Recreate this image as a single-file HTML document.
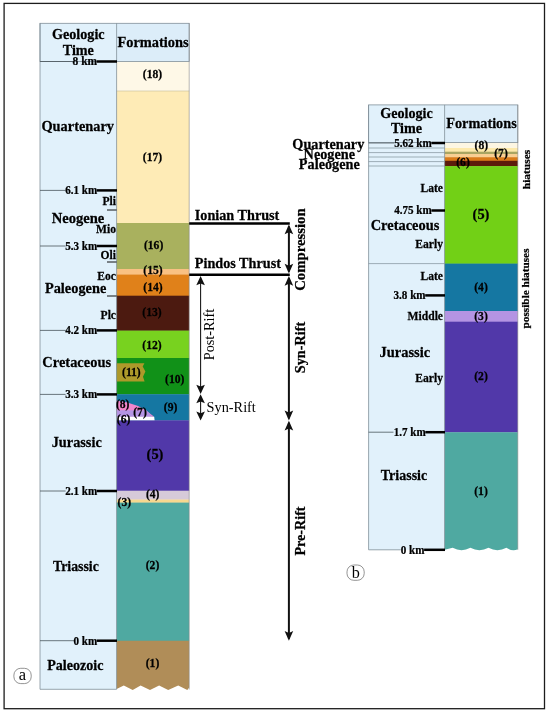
<!DOCTYPE html>
<html lang="en"><head><meta charset="utf-8"><title>Stratigraphic columns</title>
<style>html,body{margin:0;padding:0;background:#fff}svg{display:block}text{white-space:pre}</style></head>
<body>
<svg width="550" height="714" viewBox="0 0 550 714">
<rect x="0.00" y="0.00" width="550.00" height="714.00" fill="#fff" />
<rect x="4.1" y="3.4" width="540.4" height="705.3" fill="none" stroke="#1c1c1c" stroke-width="1.3"/>
<rect x="40.00" y="23.30" width="76.60" height="666.00" fill="#e1f1fb" />
<rect x="116.60" y="23.30" width="72.60" height="38.20" fill="#dcedf9" />
<rect x="116.60" y="61.50" width="72.60" height="29.80" fill="#fef8e7" />
<rect x="116.60" y="91.00" width="72.60" height="132.30" fill="#feebb6" />
<rect x="116.60" y="223.00" width="72.60" height="46.30" fill="#a9b15e" />
<rect x="116.60" y="269.00" width="72.60" height="5.80" fill="#f9c183" />
<rect x="116.60" y="274.50" width="72.60" height="21.50" fill="#e0811a" />
<rect x="116.60" y="295.70" width="72.60" height="35.20" fill="#4c1a10" />
<rect x="116.60" y="330.60" width="72.60" height="27.70" fill="#78d21f" />
<rect x="116.60" y="358.00" width="72.60" height="36.50" fill="#119118" />
<rect x="116.60" y="394.20" width="72.60" height="26.40" fill="#1577a2" />
<rect x="116.60" y="420.30" width="72.60" height="70.70" fill="#5138a9" />
<rect x="116.60" y="490.70" width="72.60" height="9.10" fill="#d6cad9" />
<rect x="116.60" y="499.50" width="72.60" height="3.40" fill="#f7d88f" />
<rect x="116.60" y="502.60" width="72.60" height="138.40" fill="#4fa9a1" />
<line x1="116.60" y1="91.00" x2="189.20" y2="91.00" stroke="#c8bd9a" stroke-width="0.6"/>
<polygon points="116.6,640.7 189.2,640.7 189.2,687.6 187.3,689.9 178.2,685.4 168.2,689.9 159.1,685.4 150.0,689.9 140.6,685.4 132.7,689.9 123.8,685.4 116.6,689.0" fill="#b08d58"/>
<polygon points="116.6,363.2 144.4,363.2 142.7,366.5 145.4,371.5 143,376.8 144.6,381.4 116.6,381.4" fill="#ad992a"/>
<path d="M116.6,400.6 Q139,403 154.2,416.7 L116.6,416.7 Z" fill="#f286cb"/>
<path d="M116.6,410.2 L146.5,410.2 L152.5,416.7 L116.6,416.7 Z" fill="#b494e3"/>
<polygon points="116.6,416.7 154.2,416.7 154.6,420.3 116.6,420.3" fill="#fff"/>
<rect x="40.0" y="23.3" width="149.20" height="38.20" fill="none" stroke="#808f99" stroke-width="0.8"/>
<line x1="40.00" y1="23.30" x2="40.00" y2="689.30" stroke="#808f99" stroke-width="0.8"/>
<line x1="40.00" y1="689.30" x2="116.60" y2="689.30" stroke="#808f99" stroke-width="0.8"/>
<line x1="116.60" y1="23.30" x2="116.60" y2="689.30" stroke="#808f99" stroke-width="0.8"/>
<line x1="189.20" y1="23.30" x2="189.20" y2="689.50" stroke="#8a8a8a" stroke-width="0.6"/>
<line x1="40.00" y1="61.50" x2="73.96" y2="61.50" stroke="#4a555c" stroke-width="0.8"/>
<line x1="96.80" y1="61.50" x2="117.00" y2="61.50" stroke="#000" stroke-width="2.5"/>
<text transform="translate(97.20,65.30) scale(0.9434,1)" font-size="12.19" text-anchor="end" font-family="'Liberation Serif','Times New Roman',serif" font-weight="bold" fill="#000" stroke="#000" stroke-width="0.25" >8 km</text>
<line x1="40.00" y1="190.40" x2="65.63" y2="190.40" stroke="#4a555c" stroke-width="0.8"/>
<line x1="96.80" y1="190.40" x2="117.00" y2="190.40" stroke="#000" stroke-width="2.5"/>
<text transform="translate(97.20,194.20) scale(0.9174,1)" font-size="12.10" text-anchor="end" font-family="'Liberation Serif','Times New Roman',serif" font-weight="bold" fill="#000" stroke="#000" stroke-width="0.25" >6.1 km</text>
<line x1="40.00" y1="246.00" x2="65.63" y2="246.00" stroke="#4a555c" stroke-width="0.8"/>
<line x1="96.80" y1="246.00" x2="117.00" y2="246.00" stroke="#000" stroke-width="2.5"/>
<text transform="translate(97.20,249.80) scale(0.9174,1)" font-size="12.10" text-anchor="end" font-family="'Liberation Serif','Times New Roman',serif" font-weight="bold" fill="#000" stroke="#000" stroke-width="0.25" >5.3 km</text>
<line x1="40.00" y1="330.40" x2="65.63" y2="330.40" stroke="#4a555c" stroke-width="0.8"/>
<line x1="96.80" y1="330.40" x2="117.00" y2="330.40" stroke="#000" stroke-width="2.5"/>
<text transform="translate(97.20,334.20) scale(0.9174,1)" font-size="12.10" text-anchor="end" font-family="'Liberation Serif','Times New Roman',serif" font-weight="bold" fill="#000" stroke="#000" stroke-width="0.25" >4.2 km</text>
<line x1="40.00" y1="394.40" x2="65.63" y2="394.40" stroke="#4a555c" stroke-width="0.8"/>
<line x1="96.80" y1="394.40" x2="117.00" y2="394.40" stroke="#000" stroke-width="2.5"/>
<text transform="translate(97.20,398.20) scale(0.9174,1)" font-size="12.10" text-anchor="end" font-family="'Liberation Serif','Times New Roman',serif" font-weight="bold" fill="#000" stroke="#000" stroke-width="0.25" >3.3 km</text>
<line x1="40.00" y1="491.00" x2="65.63" y2="491.00" stroke="#4a555c" stroke-width="0.8"/>
<line x1="96.80" y1="491.00" x2="117.00" y2="491.00" stroke="#000" stroke-width="2.5"/>
<text transform="translate(97.20,494.80) scale(0.9174,1)" font-size="12.10" text-anchor="end" font-family="'Liberation Serif','Times New Roman',serif" font-weight="bold" fill="#000" stroke="#000" stroke-width="0.25" >2.1 km</text>
<line x1="40.00" y1="640.70" x2="73.96" y2="640.70" stroke="#4a555c" stroke-width="0.8"/>
<line x1="96.80" y1="640.70" x2="117.00" y2="640.70" stroke="#000" stroke-width="2.5"/>
<text transform="translate(97.20,644.50) scale(0.9174,1)" font-size="12.10" text-anchor="end" font-family="'Liberation Serif','Times New Roman',serif" font-weight="bold" fill="#000" stroke="#000" stroke-width="0.25" >0 km</text>
<line x1="107.00" y1="210.00" x2="116.60" y2="210.00" stroke="#111" stroke-width="1"/>
<line x1="107.00" y1="262.00" x2="116.60" y2="262.00" stroke="#111" stroke-width="1"/>
<line x1="107.00" y1="296.00" x2="116.60" y2="296.00" stroke="#111" stroke-width="1"/>
<text transform="translate(78.30,39.00) scale(0.9524,1)" font-size="14.86" text-anchor="middle" font-family="'Liberation Serif','Times New Roman',serif" font-weight="bold" fill="#000" stroke="#000" stroke-width="0.25" >Geologic</text>
<text transform="translate(78.30,55.00) scale(0.9524,1)" font-size="14.86" text-anchor="middle" font-family="'Liberation Serif','Times New Roman',serif" font-weight="bold" fill="#000" stroke="#000" stroke-width="0.25" >Time</text>
<text transform="translate(153.00,47.30) scale(0.9524,1)" font-size="15.12" text-anchor="middle" font-family="'Liberation Serif','Times New Roman',serif" font-weight="bold" fill="#000" stroke="#000" stroke-width="0.25" >Formations</text>
<text transform="translate(77.70,131.00) scale(0.9524,1)" font-size="15.07" text-anchor="middle" font-family="'Liberation Serif','Times New Roman',serif" font-weight="bold" fill="#000" stroke="#000" stroke-width="0.25" >Quartenary</text>
<text transform="translate(78.00,222.50) scale(0.9524,1)" font-size="15.33" text-anchor="middle" font-family="'Liberation Serif','Times New Roman',serif" font-weight="bold" fill="#000" stroke="#000" stroke-width="0.25" >Neogene</text>
<text transform="translate(75.60,292.70) scale(0.9524,1)" font-size="15.07" text-anchor="middle" font-family="'Liberation Serif','Times New Roman',serif" font-weight="bold" fill="#000" stroke="#000" stroke-width="0.25" >Paleogene</text>
<text transform="translate(76.70,367.30) scale(0.9524,1)" font-size="15.17" text-anchor="middle" font-family="'Liberation Serif','Times New Roman',serif" font-weight="bold" fill="#000" stroke="#000" stroke-width="0.25" >Cretaceous</text>
<text transform="translate(76.70,446.60) scale(0.9524,1)" font-size="15.02" text-anchor="middle" font-family="'Liberation Serif','Times New Roman',serif" font-weight="bold" fill="#000" stroke="#000" stroke-width="0.25" >Jurassic</text>
<text transform="translate(75.90,570.80) scale(0.9524,1)" font-size="14.54" text-anchor="middle" font-family="'Liberation Serif','Times New Roman',serif" font-weight="bold" fill="#000" stroke="#000" stroke-width="0.25" >Triassic</text>
<text transform="translate(75.30,669.80) scale(0.9524,1)" font-size="14.80" text-anchor="middle" font-family="'Liberation Serif','Times New Roman',serif" font-weight="bold" fill="#000" stroke="#000" stroke-width="0.25" >Paleozoic</text>
<text transform="translate(116.00,204.60) scale(0.9524,1)" font-size="12.18" text-anchor="end" font-family="'Liberation Serif','Times New Roman',serif" font-weight="bold" fill="#000" stroke="#000" stroke-width="0.25" >Pli</text>
<text transform="translate(116.00,232.70) scale(0.9524,1)" font-size="12.18" text-anchor="end" font-family="'Liberation Serif','Times New Roman',serif" font-weight="bold" fill="#000" stroke="#000" stroke-width="0.25" >Mio</text>
<text transform="translate(116.00,259.00) scale(0.9524,1)" font-size="12.18" text-anchor="end" font-family="'Liberation Serif','Times New Roman',serif" font-weight="bold" fill="#000" stroke="#000" stroke-width="0.25" >Oli</text>
<text transform="translate(116.00,280.00) scale(0.9524,1)" font-size="12.18" text-anchor="end" font-family="'Liberation Serif','Times New Roman',serif" font-weight="bold" fill="#000" stroke="#000" stroke-width="0.25" >Eoc</text>
<text transform="translate(116.00,318.60) scale(0.9524,1)" font-size="12.18" text-anchor="end" font-family="'Liberation Serif','Times New Roman',serif" font-weight="bold" fill="#000" stroke="#000" stroke-width="0.25" >Plc</text>
<text transform="translate(152.50,77.63) scale(0.9524,1)" font-size="12.18" text-anchor="middle" font-family="'Liberation Serif','Times New Roman',serif" font-weight="bold" fill="#000" stroke="#000" stroke-width="0.25" >(18)</text>
<text transform="translate(152.50,160.83) scale(0.9524,1)" font-size="12.18" text-anchor="middle" font-family="'Liberation Serif','Times New Roman',serif" font-weight="bold" fill="#000" stroke="#000" stroke-width="0.25" >(17)</text>
<text transform="translate(153.60,248.83) scale(0.9524,1)" font-size="12.18" text-anchor="middle" font-family="'Liberation Serif','Times New Roman',serif" font-weight="bold" fill="#000" stroke="#000" stroke-width="0.25" >(16)</text>
<text transform="translate(153.00,274.33) scale(0.9524,1)" font-size="12.18" text-anchor="middle" font-family="'Liberation Serif','Times New Roman',serif" font-weight="bold" fill="#000" stroke="#000" stroke-width="0.25" >(15)</text>
<text transform="translate(153.00,291.33) scale(0.9524,1)" font-size="12.18" text-anchor="middle" font-family="'Liberation Serif','Times New Roman',serif" font-weight="bold" fill="#000" stroke="#000" stroke-width="0.25" >(14)</text>
<text transform="translate(152.00,316.33) scale(0.9524,1)" font-size="12.18" text-anchor="middle" font-family="'Liberation Serif','Times New Roman',serif" font-weight="bold" fill="#000" stroke="#000" stroke-width="0.25" >(13)</text>
<text transform="translate(152.00,348.83) scale(0.9524,1)" font-size="12.18" text-anchor="middle" font-family="'Liberation Serif','Times New Roman',serif" font-weight="bold" fill="#000" stroke="#000" stroke-width="0.25" >(12)</text>
<text transform="translate(131.40,375.83) scale(0.9524,1)" font-size="12.18" text-anchor="middle" font-family="'Liberation Serif','Times New Roman',serif" font-weight="bold" fill="#000" stroke="#000" stroke-width="0.25" >(11)</text>
<text transform="translate(174.70,383.33) scale(0.9524,1)" font-size="12.18" text-anchor="middle" font-family="'Liberation Serif','Times New Roman',serif" font-weight="bold" fill="#000" stroke="#000" stroke-width="0.25" >(10)</text>
<text transform="translate(170.60,411.23) scale(0.9524,1)" font-size="12.18" text-anchor="middle" font-family="'Liberation Serif','Times New Roman',serif" font-weight="bold" fill="#000" stroke="#000" stroke-width="0.25" >(9)</text>
<text transform="translate(122.70,407.83) scale(0.9524,1)" font-size="12.18" text-anchor="middle" font-family="'Liberation Serif','Times New Roman',serif" font-weight="bold" fill="#000" stroke="#000" stroke-width="0.25" >(8)</text>
<text transform="translate(140.00,415.83) scale(0.9524,1)" font-size="12.18" text-anchor="middle" font-family="'Liberation Serif','Times New Roman',serif" font-weight="bold" fill="#000" stroke="#000" stroke-width="0.25" >(7)</text>
<text transform="translate(123.60,422.53) scale(0.9524,1)" font-size="12.18" text-anchor="middle" font-family="'Liberation Serif','Times New Roman',serif" font-weight="bold" fill="#000" stroke="#000" stroke-width="0.25" >(6)</text>
<text transform="translate(152.70,498.13) scale(0.9524,1)" font-size="12.18" text-anchor="middle" font-family="'Liberation Serif','Times New Roman',serif" font-weight="bold" fill="#000" stroke="#000" stroke-width="0.25" >(4)</text>
<text transform="translate(124.30,505.83) scale(0.9524,1)" font-size="12.18" text-anchor="middle" font-family="'Liberation Serif','Times New Roman',serif" font-weight="bold" fill="#000" stroke="#000" stroke-width="0.25" >(3)</text>
<text transform="translate(152.50,569.33) scale(0.9524,1)" font-size="12.18" text-anchor="middle" font-family="'Liberation Serif','Times New Roman',serif" font-weight="bold" fill="#000" stroke="#000" stroke-width="0.25" >(2)</text>
<text transform="translate(152.50,667.43) scale(0.9524,1)" font-size="12.18" text-anchor="middle" font-family="'Liberation Serif','Times New Roman',serif" font-weight="bold" fill="#000" stroke="#000" stroke-width="0.25" >(1)</text>
<text transform="translate(155.00,458.77) scale(0.9524,1)" font-size="15.17" text-anchor="middle" font-family="'Liberation Serif','Times New Roman',serif" font-weight="bold" fill="#000" stroke="#000" stroke-width="0.25" >(5)</text>
<rect x="13.9" y="668.3" width="17.3" height="15.3" rx="6.8" ry="6.8" fill="#fff" stroke="#666" stroke-width="0.7"/>
<text transform="translate(22.30,679.60) scale(0.9524,1)" font-size="17.32" text-anchor="middle" font-family="'Liberation Serif','Times New Roman',serif" fill="#000" stroke="#000" stroke-width="0.25"  stroke-opacity="0">a</text>
<line x1="189.20" y1="223.50" x2="289.80" y2="223.50" stroke="#000" stroke-width="2.6"/>
<line x1="189.20" y1="274.80" x2="289.80" y2="274.80" stroke="#000" stroke-width="2.6"/>
<text transform="translate(194.80,220.40) scale(0.9524,1)" font-size="14.91" text-anchor="start" font-family="'Liberation Serif','Times New Roman',serif" font-weight="bold" fill="#000" stroke="#000" stroke-width="0.25" >Ionian Thrust</text>
<text transform="translate(194.80,268.20) scale(0.9524,1)" font-size="14.91" text-anchor="start" font-family="'Liberation Serif','Times New Roman',serif" font-weight="bold" fill="#000" stroke="#000" stroke-width="0.25" >Pindos Thrust</text>
<line x1="288.90" y1="226.40" x2="288.90" y2="271.60" stroke="#111" stroke-width="2.0"/>
<polygon points="288.9,224.4 293.2,234.20000000000002 288.9,232.20000000000002 284.59999999999997,234.20000000000002" fill="#111"/>
<polygon points="288.9,273.6 293.2,263.8 288.9,265.8 284.59999999999997,263.8" fill="#111"/>
<line x1="288.90" y1="278.00" x2="288.90" y2="418.40" stroke="#111" stroke-width="2.0"/>
<polygon points="288.9,276 293.2,285.8 288.9,283.8 284.59999999999997,285.8" fill="#111"/>
<polygon points="288.9,420.4 293.2,410.59999999999997 288.9,412.59999999999997 284.59999999999997,410.59999999999997" fill="#111"/>
<line x1="288.90" y1="422.70" x2="288.90" y2="638.70" stroke="#111" stroke-width="2.0"/>
<polygon points="288.9,420.7 293.2,430.5 288.9,428.5 284.59999999999997,430.5" fill="#111"/>
<polygon points="288.9,640.7 293.2,630.9000000000001 288.9,632.9000000000001 284.59999999999997,630.9000000000001" fill="#111"/>
<line x1="200.60" y1="278.00" x2="200.60" y2="391.90" stroke="#111" stroke-width="1.05"/>
<polygon points="200.6,276 204.9,285.2 200.6,283.4 196.29999999999998,285.2" fill="#111"/>
<polygon points="200.6,393.9 204.9,384.7 200.6,386.5 196.29999999999998,384.7" fill="#111"/>
<line x1="200.60" y1="396.30" x2="200.60" y2="418.40" stroke="#111" stroke-width="1.05"/>
<polygon points="200.6,394.3 204.9,403.3 200.6,401.5 196.29999999999998,403.3" fill="#111"/>
<polygon points="200.6,420.4 204.9,411.4 200.6,413.2 196.29999999999998,411.4" fill="#111"/>
<text transform="translate(305.40,249.60) rotate(-90)" font-size="14.75" text-anchor="middle" font-family="'Liberation Serif','Times New Roman',serif" font-weight="bold" fill="#000" stroke="#000" stroke-width="0.25">Compression</text>
<text transform="translate(305.10,347.50) rotate(-90)" font-size="14.2" text-anchor="middle" font-family="'Liberation Serif','Times New Roman',serif" font-weight="bold" fill="#000" stroke="#000" stroke-width="0.25">Syn-Rift</text>
<text transform="translate(305.10,531.00) rotate(-90)" font-size="14.1" text-anchor="middle" font-family="'Liberation Serif','Times New Roman',serif" font-weight="bold" fill="#000" stroke="#000" stroke-width="0.25">Pre-Rift</text>
<text transform="translate(214.30,334.50) rotate(-90)" font-size="14.3" text-anchor="middle" font-family="'Liberation Serif','Times New Roman',serif" stroke-opacity="0" fill="#000" stroke="#000" stroke-width="0.25">Post-Rift</text>
<text transform="translate(206.60,412.30) scale(0.9524,1)" font-size="15.02" text-anchor="start" font-family="'Liberation Serif','Times New Roman',serif" fill="#000" stroke="#000" stroke-width="0.25"  stroke-opacity="0">Syn-Rift</text>
<rect x="368.60" y="104.90" width="76.00" height="444.90" fill="#e1f1fb" />
<rect x="444.60" y="104.90" width="73.20" height="37.70" fill="#dcedf9" />
<rect x="444.60" y="142.40" width="73.20" height="5.90" fill="#fdf6e2" />
<rect x="444.60" y="148.00" width="73.20" height="4.00" fill="#fde9ab" />
<rect x="444.60" y="151.70" width="73.20" height="2.60" fill="#a9a562" />
<rect x="444.60" y="154.00" width="73.20" height="3.50" fill="#f8cf92" />
<rect x="444.60" y="157.20" width="73.20" height="3.90" fill="#d97b19" />
<rect x="444.60" y="160.80" width="73.20" height="5.60" fill="#5c1b0b" />
<rect x="444.60" y="166.10" width="73.20" height="97.80" fill="#72d016" />
<rect x="444.60" y="263.60" width="73.20" height="47.70" fill="#1577a2" />
<rect x="444.60" y="311.00" width="73.20" height="11.00" fill="#b494e3" />
<rect x="444.60" y="321.70" width="73.20" height="110.80" fill="#5138a9" />
<path d="M444.6,432.2 L517.8,432.2 L517.8,549.3 Q512.5,551.8 506.4,547.8 Q497.4,552.5 488.5,547.8 Q479.4,552.5 470.4,547.8 Q461.5,552.5 452.7,547.8 L444.6,549.7 Z" fill="#4fa9a1"/>
<rect x="368.6" y="104.9" width="149.20" height="37.70" fill="none" stroke="#808f99" stroke-width="0.8"/>
<line x1="368.60" y1="104.90" x2="368.60" y2="549.80" stroke="#808f99" stroke-width="0.8"/>
<line x1="368.60" y1="549.80" x2="400.80" y2="549.80" stroke="#808f99" stroke-width="0.8"/>
<line x1="444.60" y1="104.90" x2="444.60" y2="549.80" stroke="#808f99" stroke-width="0.8"/>
<line x1="517.80" y1="104.90" x2="517.80" y2="549.80" stroke="#8a8a8a" stroke-width="0.6"/>
<line x1="368.60" y1="148.00" x2="444.60" y2="148.00" stroke="#808f99" stroke-width="0.7"/>
<line x1="368.60" y1="152.60" x2="444.60" y2="152.60" stroke="#808f99" stroke-width="0.7"/>
<line x1="368.60" y1="157.00" x2="444.60" y2="157.00" stroke="#808f99" stroke-width="0.7"/>
<line x1="368.60" y1="161.60" x2="444.60" y2="161.60" stroke="#808f99" stroke-width="0.7"/>
<line x1="368.60" y1="166.00" x2="444.60" y2="166.00" stroke="#808f99" stroke-width="0.7"/>
<line x1="368.60" y1="263.60" x2="444.60" y2="263.60" stroke="#808f99" stroke-width="0.7"/>
<line x1="368.60" y1="432.20" x2="393.50" y2="432.20" stroke="#4a555c" stroke-width="0.8"/>
<line x1="368.60" y1="143.00" x2="394.50" y2="143.00" stroke="#4a555c" stroke-width="0.8"/>
<line x1="431.40" y1="143.00" x2="445.00" y2="143.00" stroke="#000" stroke-width="2.5"/>
<text transform="translate(431.80,146.80) scale(0.9174,1)" font-size="12.10" text-anchor="end" font-family="'Liberation Serif','Times New Roman',serif" font-weight="bold" fill="#000" stroke="#000" stroke-width="0.25" >5.62 km</text>
<line x1="431.40" y1="210.50" x2="445.00" y2="210.50" stroke="#000" stroke-width="2.5"/>
<text transform="translate(431.80,214.30) scale(0.9174,1)" font-size="12.10" text-anchor="end" font-family="'Liberation Serif','Times New Roman',serif" font-weight="bold" fill="#000" stroke="#000" stroke-width="0.25" >4.75 km</text>
<line x1="425.20" y1="295.40" x2="445.00" y2="295.40" stroke="#000" stroke-width="2.5"/>
<text transform="translate(425.60,299.20) scale(0.9174,1)" font-size="12.10" text-anchor="end" font-family="'Liberation Serif','Times New Roman',serif" font-weight="bold" fill="#000" stroke="#000" stroke-width="0.25" >3.8 km</text>
<line x1="425.30" y1="432.20" x2="445.00" y2="432.20" stroke="#000" stroke-width="2.5"/>
<text transform="translate(425.70,436.00) scale(0.9174,1)" font-size="12.10" text-anchor="end" font-family="'Liberation Serif','Times New Roman',serif" font-weight="bold" fill="#000" stroke="#000" stroke-width="0.25" >1.7 km</text>
<line x1="424.10" y1="549.80" x2="445.00" y2="549.80" stroke="#000" stroke-width="2.5"/>
<text transform="translate(424.50,553.60) scale(0.9174,1)" font-size="12.10" text-anchor="end" font-family="'Liberation Serif','Times New Roman',serif" font-weight="bold" fill="#000" stroke="#000" stroke-width="0.25" >0 km</text>
<text transform="translate(406.50,117.70) scale(0.9524,1)" font-size="14.86" text-anchor="middle" font-family="'Liberation Serif','Times New Roman',serif" font-weight="bold" fill="#000" stroke="#000" stroke-width="0.25" >Geologic</text>
<text transform="translate(406.50,132.80) scale(0.9524,1)" font-size="14.86" text-anchor="middle" font-family="'Liberation Serif','Times New Roman',serif" font-weight="bold" fill="#000" stroke="#000" stroke-width="0.25" >Time</text>
<text transform="translate(481.50,128.20) scale(0.9524,1)" font-size="14.96" text-anchor="middle" font-family="'Liberation Serif','Times New Roman',serif" font-weight="bold" fill="#000" stroke="#000" stroke-width="0.25" >Formations</text>
<text transform="translate(364.30,149.00) scale(0.9524,1)" font-size="14.96" text-anchor="end" font-family="'Liberation Serif','Times New Roman',serif" font-weight="bold" fill="#000" stroke="#000" stroke-width="0.25" >Quartenary</text>
<text transform="translate(329.30,158.80) scale(0.9524,1)" font-size="14.96" text-anchor="middle" font-family="'Liberation Serif','Times New Roman',serif" font-weight="bold" fill="#000" stroke="#000" stroke-width="0.25" >Neogene</text>
<text transform="translate(329.30,168.70) scale(0.9524,1)" font-size="14.96" text-anchor="middle" font-family="'Liberation Serif','Times New Roman',serif" font-weight="bold" fill="#000" stroke="#000" stroke-width="0.25" >Paleogene</text>
<text transform="translate(405.00,229.80) scale(0.9524,1)" font-size="15.17" text-anchor="middle" font-family="'Liberation Serif','Times New Roman',serif" font-weight="bold" fill="#000" stroke="#000" stroke-width="0.25" >Cretaceous</text>
<text transform="translate(404.80,356.60) scale(0.9524,1)" font-size="15.17" text-anchor="middle" font-family="'Liberation Serif','Times New Roman',serif" font-weight="bold" fill="#000" stroke="#000" stroke-width="0.25" >Jurassic</text>
<text transform="translate(404.00,479.70) scale(0.9524,1)" font-size="14.70" text-anchor="middle" font-family="'Liberation Serif','Times New Roman',serif" font-weight="bold" fill="#000" stroke="#000" stroke-width="0.25" >Triassic</text>
<text transform="translate(443.00,192.00) scale(0.9524,1)" font-size="12.18" text-anchor="end" font-family="'Liberation Serif','Times New Roman',serif" font-weight="bold" fill="#000" stroke="#000" stroke-width="0.25" >Late</text>
<text transform="translate(443.00,247.60) scale(0.9524,1)" font-size="12.18" text-anchor="end" font-family="'Liberation Serif','Times New Roman',serif" font-weight="bold" fill="#000" stroke="#000" stroke-width="0.25" >Early</text>
<text transform="translate(443.00,279.60) scale(0.9524,1)" font-size="12.18" text-anchor="end" font-family="'Liberation Serif','Times New Roman',serif" font-weight="bold" fill="#000" stroke="#000" stroke-width="0.25" >Late</text>
<text transform="translate(443.00,319.50) scale(0.9524,1)" font-size="12.18" text-anchor="end" font-family="'Liberation Serif','Times New Roman',serif" font-weight="bold" fill="#000" stroke="#000" stroke-width="0.25" >Middle</text>
<text transform="translate(443.00,382.30) scale(0.9524,1)" font-size="12.18" text-anchor="end" font-family="'Liberation Serif','Times New Roman',serif" font-weight="bold" fill="#000" stroke="#000" stroke-width="0.25" >Early</text>
<text transform="translate(481.30,149.43) scale(0.9524,1)" font-size="12.18" text-anchor="middle" font-family="'Liberation Serif','Times New Roman',serif" font-weight="bold" fill="#000" stroke="#000" stroke-width="0.25" >(8)</text>
<text transform="translate(501.00,157.33) scale(0.9524,1)" font-size="12.18" text-anchor="middle" font-family="'Liberation Serif','Times New Roman',serif" font-weight="bold" fill="#000" stroke="#000" stroke-width="0.25" >(7)</text>
<text transform="translate(463.00,165.83) scale(0.9524,1)" font-size="12.18" text-anchor="middle" font-family="'Liberation Serif','Times New Roman',serif" font-weight="bold" fill="#000" stroke="#000" stroke-width="0.25" >(6)</text>
<text transform="translate(481.00,290.83) scale(0.9524,1)" font-size="12.18" text-anchor="middle" font-family="'Liberation Serif','Times New Roman',serif" font-weight="bold" fill="#000" stroke="#000" stroke-width="0.25" >(4)</text>
<text transform="translate(481.00,319.83) scale(0.9524,1)" font-size="12.18" text-anchor="middle" font-family="'Liberation Serif','Times New Roman',serif" font-weight="bold" fill="#000" stroke="#000" stroke-width="0.25" >(3)</text>
<text transform="translate(481.00,380.23) scale(0.9524,1)" font-size="12.18" text-anchor="middle" font-family="'Liberation Serif','Times New Roman',serif" font-weight="bold" fill="#000" stroke="#000" stroke-width="0.25" >(2)</text>
<text transform="translate(481.00,494.83) scale(0.9524,1)" font-size="12.18" text-anchor="middle" font-family="'Liberation Serif','Times New Roman',serif" font-weight="bold" fill="#000" stroke="#000" stroke-width="0.25" >(1)</text>
<text transform="translate(481.00,219.37) scale(0.9524,1)" font-size="15.17" text-anchor="middle" font-family="'Liberation Serif','Times New Roman',serif" font-weight="bold" fill="#000" stroke="#000" stroke-width="0.25" >(5)</text>
<text transform="translate(529.50,169.50) rotate(-90)" font-size="11.4" text-anchor="middle" font-family="'Liberation Serif','Times New Roman',serif" font-weight="bold" fill="#000" stroke="#000" stroke-width="0.25">hiatuses</text>
<text transform="translate(529.30,288.50) rotate(-90)" font-size="11.3" text-anchor="middle" font-family="'Liberation Serif','Times New Roman',serif" font-weight="bold" fill="#000" stroke="#000" stroke-width="0.25">possible hiatuses</text>
<rect x="347" y="565" width="17.2" height="15.3" rx="6.8" ry="6.8" fill="#fff" stroke="#666" stroke-width="0.7"/>
<text transform="translate(355.70,577.90) scale(0.9524,1)" font-size="17.01" text-anchor="middle" font-family="'Liberation Serif','Times New Roman',serif" fill="#000" stroke="#000" stroke-width="0.25"  stroke-opacity="0">b</text>
</svg>
</body></html>
